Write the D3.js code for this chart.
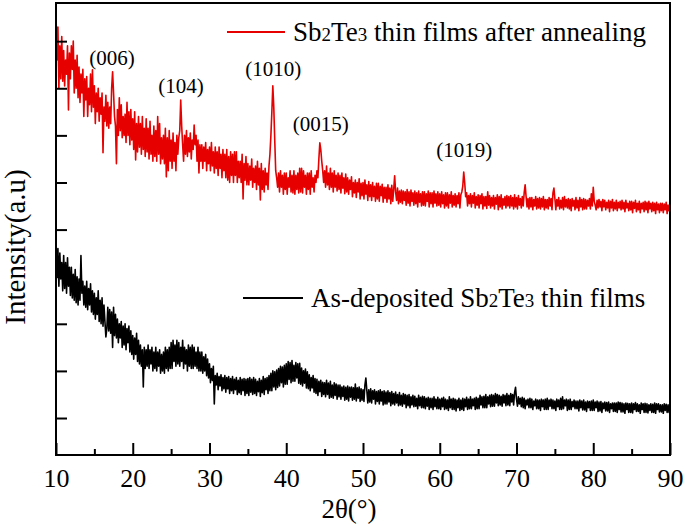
<!DOCTYPE html>
<html><head><meta charset="utf-8">
<script src="https://cdn.jsdelivr.net/npm/d3@7"></script>
<style>body{margin:0;background:#fff}svg{display:block}</style>
</head><body><svg id="c" width="685" height="529"></svg>
<script>
// 2θ grid: start and step in degrees
const thetaStart = 10, thetaStep = 0.125;
const xTicksMajor = [10,20,30,40,50,60,70,80,90];
const xTicksMinor = [15,25,35,45,55,65,75,85];
const yTicks = [0,100,200,300,400,500,600,700,800];

const annealed = [
860,760,830,700,790,720,810,715, 780,705,760,730,790,654,775,720,
790,740,800,690,760,700,770,680, 745,670,730,690,740,640,720,675,
725,640,700,665,730,650,739,660, 705,625,690,650,700,630,680,645,
690,563,660,630,685,620,670,615, 660,625,700,735,690,640,620,540,
655,600,680,610,665,595,640,600, 645,585,670,600,650,580,655,590,
635,570,650,548,625,565,640,575, 625,560,640,570,615,555,635,565,
615,550,630,560,600,545,620,555, 610,545,640,560,625,540,595,550,
600,540,615,512,595,525,610,545, 590,530,605,545,585,525,600,560,
595,610,675,620,580,545,600,560, 610,555,595,565,605,550,590,570,
622,580,600,545,590,520,580,545, 580,530,575,545,585,525,570,540,
575,525,585,535,565,520,575,530, 565,515,575,530,560,510,570,525,
560,510,570,505,555,500,565,515, 560,500,565,515,565,500,545,510,
545,500,560,465,540,505,555,495, 540,495,535,505,550,490,530,500,
535,485,545,495,530,463,540,485, 525,480,530,495,520,485,535,560,
600,650,705,660,590,525,510,490, 520,480,525,490,515,475,520,485,
520,475,510,490,525,480,515,478, 525,475,515,485,520,478,530,480,
530,478,525,490,515,475,520,485, 520,475,525,490,510,480,515,500,
525,510,550,584,570,545,525,500, 525,490,535,495,520,485,530,490,
520,480,525,490,515,482,520,485, 515,478,520,488,510,476,518,480,
510,475,505,485,512,470,500,478, 505,468,500,480,508,465,498,472,
500,465,505,475,495,462,502,470, 495,462,500,470,492,460,498,465,
498,460,492,472,496,458,490,466, 490,458,495,465,488,455,494,460,
485,514,480,462,488,455,482,458, 484,455,482,462,480,452,485,456,
480,450,484,460,478,452,482,455, 478,448,482,458,476,450,480,452,
480,450,476,460,482,448,478,455, 478,448,482,456,476,450,480,452,
476,448,480,455,474,446,478,450, 478,446,474,456,480,448,472,452,
476,448,472,455,478,446,474,480, 492,522,500,470,478,450,472,455,
476,448,472,456,478,446,470,452, 474,446,472,455,476,444,470,450,
470,445,480,452,472,446,468,450, 472,444,468,454,474,442,470,448,
474,444,466,452,470,446,472,450, 470,446,472,450,468,444,474,448,
468,444,472,452,466,446,470,450, 478,495,470,448,466,444,468,448,
468,442,464,450,470,444,466,446, 468,444,466,448,470,442,464,446,
464,444,468,450,466,442,478,488, 466,442,464,450,468,444,462,446,
468,442,470,448,464,446,466,444, 464,440,466,450,462,442,468,446,
462,440,468,448,464,442,466,444, 464,444,462,450,466,444,476,450,
490,460,452,442,462,446,464,448, 460,440,464,448,462,442,458,446,
462,438,460,446,464,440,458,444, 462,440,458,446,460,442,462,444,
458,438,462,446,456,440,460,442, 460,436,458,445,462,438,456,442,
460,436,456,444,458,438,460,442, 458,436,460,444,456,438,458,440,
456,434,458,442,454,436,456,440, 456,436,454,442,458,434,452,440,
446];

const asDeposited = [
380,300,360,280,350,295,330,270, 345,275,330,265,340,280,320,260,
320,255,305,250,315,245,300,240, 295,250,345,265,290,240,280,235,
290,230,275,240,285,225,270,220, 265,210,255,220,270,205,250,200,
255,195,240,205,172,190,235,185, 230,180,225,150,235,175,220,170,
210,160,200,170,205,150,195,155, 200,145,190,160,195,140,185,135,
175,125,170,135,180,120,165,115, 155,110,145,66,150,105,145,110,
155,105,145,115,150,100,140,105, 150,100,140,110,145,95,135,100,
140,95,150,105,145,100,150,105, 160,105,165,120,155,110,165,115,
160,110,150,120,165,105,150,115, 145,100,155,110,150,105,155,105,
150,110,140,105,150,100,140,100, 140,95,130,100,135,90,125,85,
115,75,105,80,110,30,90,70, 95,60,88,68,92,58,86,62,
90,55,86,62,88,52,84,58, 88,52,82,60,86,50,80,54,
86,50,82,58,84,48,82,52, 84,48,86,55,82,50,86,52,
82,48,78,56,84,46,80,54, 88,50,84,60,86,52,90,58,
95,58,100,66,98,60,102,65, 105,68,110,75,108,66,112,72,
115,72,120,82,118,75,122,78, 112,78,118,85,115,74,116,72,
106,68,100,74,104,64,98,62, 92,58,86,64,90,55,84,52,
82,48,78,56,80,46,76,50, 75,45,80,50,74,42,78,44,
70,42,75,48,72,40,70,45, 70,40,66,46,68,38,65,40,
68,36,65,44,66,38,64,40, 72,36,64,42,66,35,62,38,
60,35,70,85,58,32,60,34, 62,32,58,40,60,30,56,35,
58,30,60,36,56,28,58,30, 55,30,58,34,54,26,56,30,
52,28,55,32,50,26,54,28, 48,25,52,30,50,22,48,26,
50,22,45,28,48,24,46,25, 42,20,48,26,44,22,46,22,
45,20,42,25,44,18,42,22, 42,18,45,24,40,20,44,20,
40,18,42,24,44,18,40,20, 38,16,45,22,40,18,42,18,
40,15,38,22,42,16,38,18, 42,16,40,24,44,18,40,20,
45,20,40,26,42,18,44,20, 42,20,48,28,45,22,46,22,
50,22,45,30,48,24,50,25, 48,25,52,32,50,26,48,28,
46,25,50,32,48,26,52,28, 48,26,52,34,50,28,54,65,
40,25,45,30,42,24,44,22, 42,20,38,28,40,22,42,22,
40,18,36,26,40,20,38,20, 38,16,40,24,38,18,40,18,
42,18,38,25,40,20,38,20, 36,16,40,24,38,18,42,18,
45,20,38,26,40,16,38,18, 40,18,35,24,38,20,36,20,
36,15,38,22,36,17,38,17, 34,14,36,22,35,16,36,16,
38,16,34,22,36,14,34,15, 35,12,32,20,34,15,33,15,
34,12,30,20,32,14,32,14, 32,12,34,18,33,13,32,13,
30,10,32,18,31,12,30,12, 32,11,30,18,33,14,30,14,
28,10,32,18,30,12,31,12, 30,11,28,16,30,12,29,12,
32,10,30,18,30,13,28,13, 28,10,30,16,29,12,28,12,
20];

const peakLabels = ["(006)","(104)","(1010)","(0015)","(1019)"];
const peakTheta = [17.3, 26.3, 38.3, 44.5, 63.2];
const peakLabelY = [750, 690, 725, 610, 555];

const FONT = '"Times New Roman","Liberation Serif",serif';
const svg = d3.select("#c");
const L = 56, R = 670, T = 3, B = 455;
const x = d3.scaleLinear().domain([10, 90]).range([L, R]);
const y = d3.scaleLinear().domain([-78.5, 881]).range([B, T]);

const line = d3.line().x((d,i) => x(thetaStart + i*thetaStep)).y(d => y(d));

svg.append("path").datum(asDeposited).attr("d", line)
  .attr("fill","none").attr("stroke","#000").attr("stroke-width",1.6).attr("stroke-linejoin","round");
svg.append("path").datum(annealed).attr("d", line)
  .attr("fill","none").attr("stroke","#e60000").attr("stroke-width",1.6).attr("stroke-linejoin","round");

// frame
svg.append("rect").attr("x",L).attr("y",T).attr("width",R-L).attr("height",B-T)
  .attr("fill","none").attr("stroke","#000").attr("stroke-width",2);

// x axis
const gx = svg.append("g").attr("transform",`translate(0,${B})`)
  .call(d3.axisBottom(x).tickValues(xTicksMajor).tickSize(-12).tickPadding(14).tickFormat(d3.format("d")));
gx.attr("font-family", FONT).attr("font-size", 26);
gx.select(".domain").remove();
gx.selectAll("line").attr("stroke-width",2);
gx.selectAll("text").attr("fill","#000");
const gxm = svg.append("g").attr("transform",`translate(0,${B})`)
  .call(d3.axisBottom(x).tickValues(xTicksMinor).tickSize(-6).tickFormat(""));
gxm.select(".domain").remove();
gxm.selectAll("line").attr("stroke-width",2);

// y axis
const gy = svg.append("g").attr("transform",`translate(${L},0)`)
  .call(d3.axisLeft(y).tickValues(yTicks).tickSize(-11).tickFormat(""));
gy.select(".domain").remove();
gy.selectAll("line").attr("stroke-width",2);

// axis titles
svg.append("text").attr("x",349).attr("y",518).attr("text-anchor","middle")
  .attr("font-family",FONT).attr("font-size",27).text("2θ(°)");
svg.append("text").attr("transform","translate(25,247) rotate(-90)").attr("text-anchor","middle")
  .attr("font-family",FONT).attr("font-size",29).text("Intensity(a.u)");

// peak labels
svg.selectAll(".pk").data(peakLabels).join("text").attr("class","pk")
  .attr("x",(d,i)=>x(peakTheta[i])).attr("y",(d,i)=>y(peakLabelY[i]))
  .attr("text-anchor","middle").attr("font-family",FONT).attr("font-size",21).text(d=>d);

// legends
function legend(x1, x2, ly, ty, color, parts){
  svg.append("line").attr("x1",x1).attr("x2",x2).attr("y1",ly).attr("y2",ly).attr("stroke",color).attr("stroke-width",2);
  const t = svg.append("text").attr("x",x2+8).attr("y",ty).attr("font-family",FONT).attr("font-size",27);
  parts.forEach(p => t.append("tspan").attr("font-size", p[1] ? 19 : 27).text(p[0]));
}
legend(227, 285, 32, 41, "#e60000", [["Sb",0],["2",1],["Te",0],["3",1],[" thin films after annealing",0]]);
legend(243, 303, 298, 307, "#000", [["As-deposited Sb",0],["2",1],["Te",0],["3",1],[" thin films",0]]);
</script></body></html>
